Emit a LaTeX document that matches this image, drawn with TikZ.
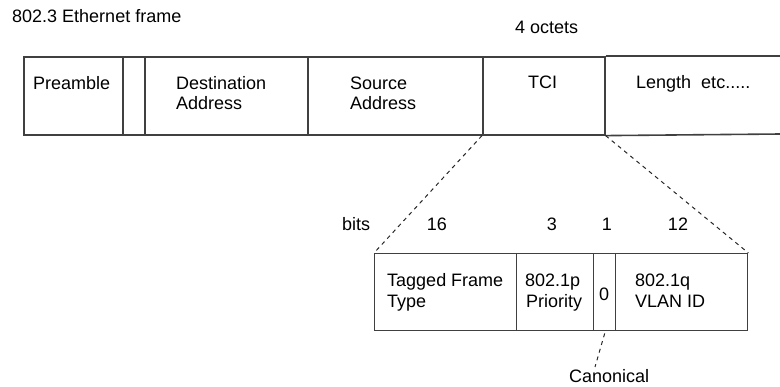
\documentclass[tikz,border=0pt]{standalone}
\usepackage{fontspec}
\setmainfont{Liberation Sans}
\begin{document}
\begin{tikzpicture}[x=1pt,y=-1pt,
  frame/.style={draw=black!75, line width=1.6pt},
  cell/.style={frame, rectangle, inner sep=0pt, anchor=north west},
  lbl/.style={inner sep=0pt, anchor=base west, font=\fontsize{18}{20.5}\selectfont},
  clbl/.style={lbl, anchor=base},
  conn/.style={draw=black!85, line width=1pt, dash pattern=on 4pt off 4pt}]
\useasboundingbox (0,0) rectangle (780,387);

% title
\node[lbl] (title) at (12,23) {802.3 Ethernet frame};
\node[lbl] (octets) at (515,34) {4 octets};

% top frame
\node[cell, minimum width=99pt, minimum height=78pt] (pre) at (23,56) {};
\node[cell, minimum width=22pt, minimum height=78pt] (sfd) at (122,56) {};
\node[cell, minimum width=163pt, minimum height=78pt] (dst) at (144,56) {};
\node[cell, minimum width=175pt, minimum height=78pt] (src) at (307,56) {};
\node[cell, minimum width=122pt, minimum height=78pt] (tci) at (482,56) {};
\coordinate (lenNE) at (781,56);
\coordinate (lenSE) at (781,134);
\draw[frame] (tci.north east) -- (lenNE);
\draw[frame] (tci.south east) -- (lenSE);

\node[lbl] (tpre) at (33,89.5) {Preamble};
\node[lbl] (tdst1) at (176,89.5) {Destination};
\node[lbl] (tdst2) at (176,110) {Address};
\node[lbl] (tsrc1) at (350,89.5) {Source};
\node[lbl] (tsrc2) at (350,110) {Address};
\node[lbl] (ttci) at (528,89) {TCI};
\node[lbl] (tlen) at (636,89) {Length\ \ etc.....};

% bit labels
\node[lbl] (bits) at (342,231) {bits};
\node[clbl] (b16) at (437,231) {16};
\node[clbl] (b3) at (552,231) {3};
\node[clbl] (b1) at (607,231) {1};
\node[clbl] (b12) at (678,231) {12};

% lower frame
\node[cell, line width=1.4pt, minimum width=142pt, minimum height=77pt] (tag) at (374,253) {};
\node[cell, line width=1.4pt, minimum width=77pt, minimum height=77pt] (pri) at (516,253) {};
\node[cell, line width=1.4pt, minimum width=22pt, minimum height=77pt] (cbit) at (593,253) {};
\node[cell, line width=1.4pt, minimum width=132pt, minimum height=77pt] (vlan) at (615,253) {};

\node[lbl] (ttag1) at (387,287) {Tagged Frame};
\node[lbl] (ttag2) at (387,307.5) {Type};
\node[lbl] (tpri1) at (525,287) {802.1p};
\node[lbl] (tpri2) at (526,307.5) {Priority};
\node[lbl] (tcb) at (599,301) {0};
\node[lbl] (tvl1) at (635,287) {802.1q};
\node[lbl] (tvl2) at (635,307.5) {VLAN ID};

\node[lbl] (canon) at (569,383) {Canonical};
\coordinate (cend) at (595,367);

% connectors
\draw[conn] (tci.south west) -- (tag.north west);
\draw[conn] (tci.south east) -- (vlan.north east);
\draw[conn] (cbit.south) ++(0,2) -- (cend);
\end{tikzpicture}
\end{document}
